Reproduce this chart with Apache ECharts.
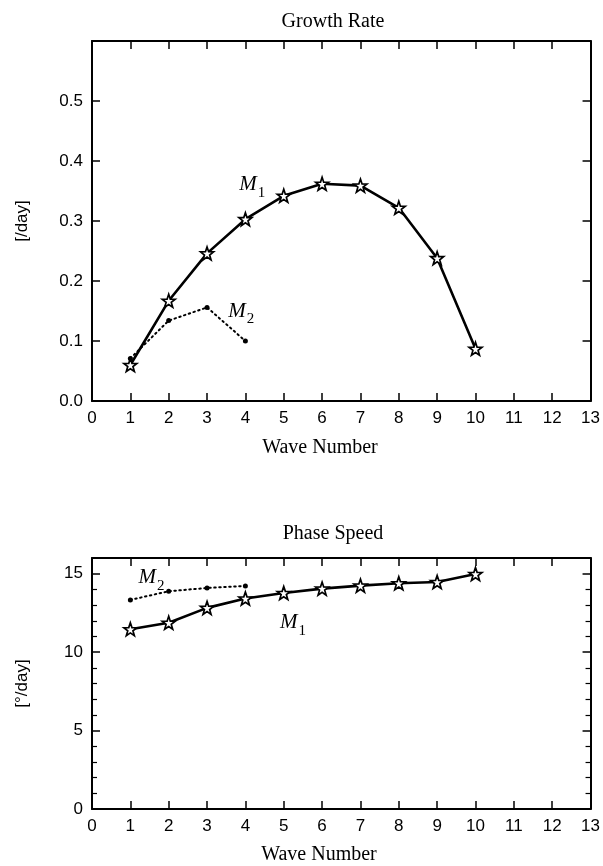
<!DOCTYPE html>
<html>
<head>
<meta charset="utf-8">
<script src="https://cdn.jsdelivr.net/npm/echarts@6/dist/echarts.min.js"></script>
<style>
html, body { margin: 0; padding: 0; background: #fff; }
#chart { width: 603px; height: 866px; }
</style>
</head>
<body>
<div id="chart"></div>
<script>
// wave numbers
const waveNumbers = [1, 2, 3, 4, 5, 6, 7, 8, 9, 10];
const waveNumbersM2 = [1, 2, 3, 4];

// growth rate [/day]
const growthM1 = [0.060, 0.167, 0.246, 0.303, 0.342, 0.362, 0.359, 0.322, 0.238, 0.087];
const growthM2 = [0.071, 0.134, 0.156, 0.100];

// phase speed [deg/day]
const speedM1 = [11.46, 11.87, 12.82, 13.42, 13.77, 14.05, 14.24, 14.39, 14.47, 14.98];
const speedM2 = [13.33, 13.88, 14.09, 14.22];

// curve labels: [x, y, subscript]
const growthLabels = [[4.18, 0.363, '1'], [3.89, 0.152, '2']];
const speedLabels = [[5.24, 11.98, '1'], [1.55, 14.83, '2']];

const star = 'path://M0,-10L2.35,-3.24L9.51,-3.09L3.8,1.24L5.88,8.09L0,4.2L-5.88,8.09L-3.8,1.24L-9.51,-3.09L-2.35,-3.24Z';
const sans = 'Liberation Sans';
const serif = 'Liberation Serif';

function pairs(xs, ys) {
    return xs.map((x, i) => [x, ys[i]]);
}

function frameAxis(extra) {
    return Object.assign({
        axisLine: {show: true, onZero: false, lineStyle: {color: '#000', width: 2}},
        axisTick: {show: true, inside: true, length: 8, lineStyle: {color: '#000', width: 1.5}},
        axisLabel: {show: false},
        splitLine: {show: false}
    }, extra);
}

function xAxes(gridIndex) {
    return [
        frameAxis({
            type: 'value', gridIndex: gridIndex, position: 'bottom', min: 0, max: 13, interval: 1,
            axisLabel: {show: true, color: '#000', fontFamily: sans, fontSize: 17, margin: 9}
        }),
        frameAxis({type: 'value', gridIndex: gridIndex, position: 'top', min: 0, max: 13, interval: 1})
    ];
}

const labelRich = {
    m: {fontFamily: serif, fontStyle: 'italic', fontSize: 21, color: '#000', lineHeight: 24, verticalAlign: 'bottom'},
    s: {fontFamily: serif, fontSize: 15, color: '#000', lineHeight: 24, verticalAlign: 'bottom', padding: [0, 0, -5, 1]}
};

function labelSeries(xi, yi, items) {
    return {
        type: 'scatter', xAxisIndex: xi, yAxisIndex: yi, symbolSize: 0, silent: true,
        itemStyle: {opacity: 1},
        data: items.map(d => ({value: [d[0], d[1]], sub: d[2]})),
        label: {
            show: true, position: 'inside', color: '#000', opacity: 1, textBorderWidth: 0,
            formatter: p => '{m|M}{s|' + p.data.sub + '}',
            rich: labelRich
        }
    };
}

function m1Series(xi, yi, data) {
    return {
        type: 'line', xAxisIndex: xi, yAxisIndex: yi, data: data, z: 3,
        symbol: star, symbolSize: 13, showAllSymbol: true,
        lineStyle: {color: '#000', width: 2.6},
        itemStyle: {color: '#fff', borderColor: '#000', borderWidth: 1.7}
    };
}

function m2Series(xi, yi, data) {
    return {
        type: 'line', xAxisIndex: xi, yAxisIndex: yi, data: data, z: 2,
        symbol: 'circle', symbolSize: 5,
        lineStyle: {color: '#000', width: 2, type: [1.5, 3.5], cap: 'round'},
        itemStyle: {color: '#000'}
    };
}

const textStyle = (x, y, text) => ({
    type: 'text', x: x, y: y,
    style: {text: text, fontFamily: serif, fontSize: 20, fill: '#000', textAlign: 'center', textVerticalAlign: 'middle'}
});

const option = {
    animation: false,
    backgroundColor: '#fff',
    graphic: [
        textStyle(333, 22, 'Growth Rate'),
        textStyle(320, 448, 'Wave Number'),
        textStyle(333, 534, 'Phase Speed'),
        textStyle(319, 855, 'Wave Number')
    ],
    grid: [
        {left: 92, right: 12, top: 41, height: 360},
        {left: 92, right: 12, top: 558, height: 251}
    ],
    xAxis: xAxes(0).concat(xAxes(1)),
    yAxis: [
        frameAxis({
            type: 'value', gridIndex: 0, position: 'left', min: 0, max: 0.6, interval: 0.1,
            name: '[/day]', nameLocation: 'middle', nameGap: 61, nameRotate: 90,
            nameTextStyle: {color: '#000', fontFamily: sans, fontSize: 17},
            axisLabel: {
                show: true, color: '#000', fontFamily: sans, fontSize: 17, margin: 9, showMaxLabel: false,
                formatter: v => v.toFixed(1)
            }
        }),
        frameAxis({type: 'value', gridIndex: 0, position: 'right', min: 0, max: 0.6, interval: 0.1}),
        frameAxis({
            type: 'value', gridIndex: 1, position: 'left', min: 0, max: 16, interval: 5,
            name: '[\u00b0/day]', nameLocation: 'middle', nameGap: 61, nameRotate: 90,
            nameTextStyle: {color: '#000', fontFamily: sans, fontSize: 17},
            minorTick: {show: true, splitNumber: 5, length: 5, lineStyle: {color: '#000', width: 1.2}},
            axisLabel: {show: true, color: '#000', fontFamily: sans, fontSize: 17, margin: 9, showMaxLabel: false}
        }),
        frameAxis({
            type: 'value', gridIndex: 1, position: 'right', min: 0, max: 16, interval: 5,
            minorTick: {show: true, splitNumber: 5, length: 5, lineStyle: {color: '#000', width: 1.2}}
        })
    ],
    series: [
        m2Series(0, 0, pairs(waveNumbersM2, growthM2)),
        m1Series(0, 0, pairs(waveNumbers, growthM1)),
        labelSeries(0, 0, growthLabels),
        m2Series(2, 2, pairs(waveNumbersM2, speedM2)),
        m1Series(2, 2, pairs(waveNumbers, speedM1)),
        labelSeries(2, 2, speedLabels)
    ]
};

const chart = echarts.init(document.getElementById('chart'));
chart.setOption(option);
</script>
</body>
</html>
